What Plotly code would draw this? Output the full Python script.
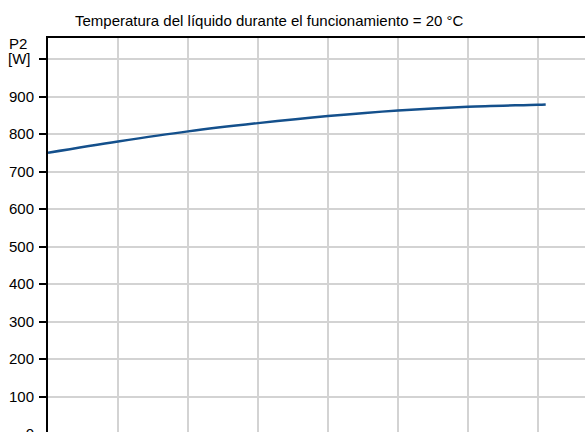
import plotly.graph_objects as go

# Data
flow_x = [0, 1, 2, 3, 4, 5, 6, 7, 7.11]
power_w = [750, 780, 807, 829, 848, 863, 873, 878, 879]
y_ticks = [0, 100, 200, 300, 400, 500, 600, 700, 800, 900, 1000]
y_tick_labels = ["0", "100", "200", "300", "400", "500", "600", "700", "800", "900", ""]
x_grid = [0, 1, 2, 3, 4, 5, 6, 7]

title_text = "Temperatura del líquido durante el funcionamiento = 20 °C"
y_label_top = "P2"
y_label_unit = "[W]"

W, H = 585, 470
L, T, R, B = 48, 38, 0, 36
FONT = "Arial, Liberation Sans, sans-serif"

fig = go.Figure()
fig.add_trace(go.Scatter(
    x=flow_x, y=power_w, mode="lines",
    line=dict(color="#14508c", width=2.5, shape="spline"),
    showlegend=False, hoverinfo="skip",
))

plot_w = W - L - R
plot_h = H - T - B
fig.update_layout(
    width=W, height=H,
    margin=dict(l=L, r=R, t=T, b=B),
    paper_bgcolor="white", plot_bgcolor="white",
    font=dict(family=FONT, size=15, color="black"),
    title=dict(text=title_text, xref="container", yref="container",
               x=75 / W, xanchor="left", y=1 - 21 / H, yanchor="middle",
               font=dict(family=FONT, size=15, color="black")),
    xaxis=dict(range=[0, plot_w / 70.0], tickvals=x_grid, showticklabels=False,
               showgrid=True, gridcolor="#d3d3d3", gridwidth=1.5,
               showline=True, linecolor="black", linewidth=2, mirror=True,
               ticks="", zeroline=False, fixedrange=True),
    yaxis=dict(range=[0, 1056], tickvals=y_ticks, ticktext=y_tick_labels,
               showgrid=True, gridcolor="#d3d3d3", gridwidth=1.5,
               showline=True, linecolor="black", linewidth=2,
               ticks="outside", ticklen=7, tickwidth=2, tickcolor="black",
               ticklabelstandoff=2,
               zeroline=False, fixedrange=True,
               tickfont=dict(family=FONT, size=15, color="black")),
    annotations=[
        dict(text=y_label_top, xref="paper", yref="paper",
             x=(18 - L) / plot_w, y=1 - (43 - T) / plot_h,
             xanchor="center", yanchor="middle", showarrow=False,
             font=dict(family=FONT, size=15, color="black")),
        dict(text=y_label_unit, xref="paper", yref="paper",
             x=(19 - L) / plot_w, y=1 - (59 - T) / plot_h,
             xanchor="center", yanchor="middle", showarrow=False,
             font=dict(family=FONT, size=15, color="black")),
    ],
)

fig.write_html("out.html", config={"displayModeBar": False},
               post_script="document.documentElement.style.overflow='hidden';document.body.style.overflow='hidden';document.body.style.margin='0';")
